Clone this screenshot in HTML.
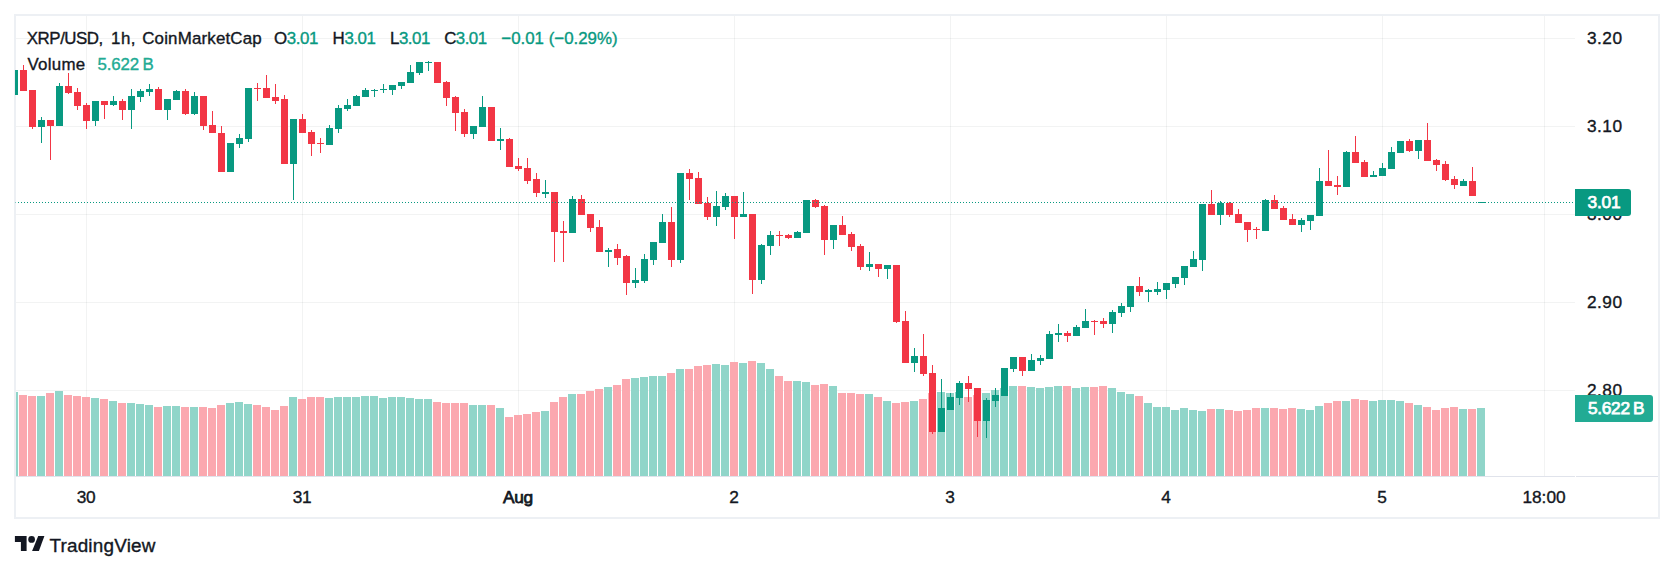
<!DOCTYPE html>
<html><head><meta charset="utf-8"><title>XRP/USD chart</title>
<style>
html,body{margin:0;padding:0;background:#fff;}
body{width:1674px;height:571px;overflow:hidden;}
svg{display:block;}
text{font-family:"Liberation Sans",sans-serif;stroke-width:0.35px;}
.d{stroke:#131722;}.g{stroke:#089981;}.v{stroke:#22ab94;}
</style></head><body>
<svg width="1674" height="571" viewBox="0 0 1674 571">
<rect x="0" y="0" width="1674" height="571" fill="#fff"/>
<rect x="15" y="15" width="1644" height="503" fill="none" stroke="#edf0f4" stroke-width="2"/>
<g shape-rendering="crispEdges">
<rect x="86" y="16" width="1" height="460" fill="rgba(42,46,57,0.06)"/>
<rect x="302" y="16" width="1" height="460" fill="rgba(42,46,57,0.06)"/>
<rect x="518" y="16" width="1" height="460" fill="rgba(42,46,57,0.06)"/>
<rect x="734" y="16" width="1" height="460" fill="rgba(42,46,57,0.06)"/>
<rect x="950" y="16" width="1" height="460" fill="rgba(42,46,57,0.06)"/>
<rect x="1166" y="16" width="1" height="460" fill="rgba(42,46,57,0.06)"/>
<rect x="1382" y="16" width="1" height="460" fill="rgba(42,46,57,0.06)"/>
<rect x="1544" y="16" width="1" height="460" fill="rgba(42,46,57,0.06)"/>
<rect x="16" y="38" width="1559" height="1" fill="rgba(42,46,57,0.06)"/>
<rect x="16" y="126" width="1559" height="1" fill="rgba(42,46,57,0.06)"/>
<rect x="16" y="214" width="1559" height="1" fill="rgba(42,46,57,0.06)"/>
<rect x="16" y="302" width="1559" height="1" fill="rgba(42,46,57,0.06)"/>
<rect x="16" y="390" width="1559" height="1" fill="rgba(42,46,57,0.06)"/>
<rect x="16" y="476" width="1559" height="1" fill="#e0e3eb"/>
<rect x="1576" y="476" width="82" height="1" fill="#e0e3eb"/>
<g id="vol">
<rect x="16" y="392" width="2" height="84" fill="#90d5c9"/>
<rect x="19" y="395" width="8" height="81" fill="#fba8af"/>
<rect x="28" y="396" width="8" height="80" fill="#fba8af"/>
<rect x="37" y="396" width="8" height="80" fill="#90d5c9"/>
<rect x="46" y="393" width="8" height="83" fill="#fba8af"/>
<rect x="55" y="391" width="8" height="85" fill="#90d5c9"/>
<rect x="64" y="395" width="8" height="81" fill="#fba8af"/>
<rect x="73" y="396" width="8" height="80" fill="#fba8af"/>
<rect x="82" y="397" width="8" height="79" fill="#fba8af"/>
<rect x="91" y="398" width="8" height="78" fill="#90d5c9"/>
<rect x="100" y="399" width="8" height="77" fill="#fba8af"/>
<rect x="109" y="401" width="8" height="75" fill="#90d5c9"/>
<rect x="118" y="403" width="8" height="73" fill="#fba8af"/>
<rect x="127" y="403" width="8" height="73" fill="#90d5c9"/>
<rect x="136" y="404" width="8" height="72" fill="#90d5c9"/>
<rect x="145" y="405" width="8" height="71" fill="#90d5c9"/>
<rect x="154" y="407" width="8" height="69" fill="#fba8af"/>
<rect x="163" y="406" width="8" height="70" fill="#90d5c9"/>
<rect x="172" y="406" width="8" height="70" fill="#90d5c9"/>
<rect x="181" y="407" width="8" height="69" fill="#fba8af"/>
<rect x="190" y="407" width="8" height="69" fill="#90d5c9"/>
<rect x="199" y="407" width="8" height="69" fill="#fba8af"/>
<rect x="208" y="408" width="8" height="68" fill="#fba8af"/>
<rect x="217" y="405" width="8" height="71" fill="#fba8af"/>
<rect x="226" y="403" width="8" height="73" fill="#90d5c9"/>
<rect x="235" y="402" width="8" height="74" fill="#90d5c9"/>
<rect x="244" y="404" width="8" height="72" fill="#90d5c9"/>
<rect x="253" y="405" width="8" height="71" fill="#fba8af"/>
<rect x="262" y="407" width="8" height="69" fill="#fba8af"/>
<rect x="271" y="410" width="8" height="66" fill="#fba8af"/>
<rect x="280" y="406" width="8" height="70" fill="#fba8af"/>
<rect x="289" y="397" width="8" height="79" fill="#90d5c9"/>
<rect x="298" y="399" width="8" height="77" fill="#fba8af"/>
<rect x="307" y="397" width="8" height="79" fill="#fba8af"/>
<rect x="316" y="397" width="8" height="79" fill="#fba8af"/>
<rect x="325" y="398" width="8" height="78" fill="#90d5c9"/>
<rect x="334" y="397" width="8" height="79" fill="#90d5c9"/>
<rect x="343" y="397" width="8" height="79" fill="#90d5c9"/>
<rect x="352" y="397" width="8" height="79" fill="#90d5c9"/>
<rect x="361" y="396" width="8" height="80" fill="#90d5c9"/>
<rect x="370" y="396" width="8" height="80" fill="#90d5c9"/>
<rect x="379" y="398" width="8" height="78" fill="#90d5c9"/>
<rect x="388" y="397" width="8" height="79" fill="#90d5c9"/>
<rect x="397" y="397" width="8" height="79" fill="#90d5c9"/>
<rect x="406" y="398" width="8" height="78" fill="#90d5c9"/>
<rect x="415" y="399" width="8" height="77" fill="#90d5c9"/>
<rect x="424" y="399" width="8" height="77" fill="#90d5c9"/>
<rect x="433" y="402" width="8" height="74" fill="#fba8af"/>
<rect x="442" y="403" width="8" height="73" fill="#fba8af"/>
<rect x="451" y="403" width="8" height="73" fill="#fba8af"/>
<rect x="460" y="403" width="8" height="73" fill="#fba8af"/>
<rect x="469" y="405" width="8" height="71" fill="#90d5c9"/>
<rect x="478" y="405" width="8" height="71" fill="#90d5c9"/>
<rect x="487" y="405" width="8" height="71" fill="#fba8af"/>
<rect x="496" y="408" width="8" height="68" fill="#90d5c9"/>
<rect x="505" y="417" width="8" height="59" fill="#fba8af"/>
<rect x="514" y="415" width="8" height="61" fill="#fba8af"/>
<rect x="523" y="414" width="8" height="62" fill="#fba8af"/>
<rect x="532" y="412" width="8" height="64" fill="#fba8af"/>
<rect x="541" y="411" width="8" height="65" fill="#90d5c9"/>
<rect x="550" y="402" width="8" height="74" fill="#fba8af"/>
<rect x="559" y="397" width="8" height="79" fill="#fba8af"/>
<rect x="568" y="394" width="8" height="82" fill="#90d5c9"/>
<rect x="577" y="394" width="8" height="82" fill="#fba8af"/>
<rect x="586" y="391" width="8" height="85" fill="#fba8af"/>
<rect x="595" y="389" width="8" height="87" fill="#fba8af"/>
<rect x="604" y="387" width="8" height="89" fill="#90d5c9"/>
<rect x="613" y="385" width="8" height="91" fill="#fba8af"/>
<rect x="622" y="379" width="8" height="97" fill="#fba8af"/>
<rect x="631" y="378" width="8" height="98" fill="#90d5c9"/>
<rect x="640" y="377" width="8" height="99" fill="#90d5c9"/>
<rect x="649" y="376" width="8" height="100" fill="#90d5c9"/>
<rect x="658" y="376" width="8" height="100" fill="#90d5c9"/>
<rect x="667" y="373" width="8" height="103" fill="#fba8af"/>
<rect x="676" y="369" width="8" height="107" fill="#90d5c9"/>
<rect x="685" y="369" width="8" height="107" fill="#fba8af"/>
<rect x="694" y="366" width="8" height="110" fill="#fba8af"/>
<rect x="703" y="365" width="8" height="111" fill="#fba8af"/>
<rect x="712" y="364" width="8" height="112" fill="#90d5c9"/>
<rect x="721" y="365" width="8" height="111" fill="#90d5c9"/>
<rect x="730" y="362" width="8" height="114" fill="#fba8af"/>
<rect x="739" y="363" width="8" height="113" fill="#90d5c9"/>
<rect x="748" y="361" width="8" height="115" fill="#fba8af"/>
<rect x="757" y="363" width="8" height="113" fill="#90d5c9"/>
<rect x="766" y="369" width="8" height="107" fill="#90d5c9"/>
<rect x="775" y="376" width="8" height="100" fill="#fba8af"/>
<rect x="784" y="381" width="8" height="95" fill="#fba8af"/>
<rect x="793" y="381" width="8" height="95" fill="#90d5c9"/>
<rect x="802" y="382" width="8" height="94" fill="#90d5c9"/>
<rect x="811" y="385" width="8" height="91" fill="#fba8af"/>
<rect x="820" y="384" width="8" height="92" fill="#fba8af"/>
<rect x="829" y="386" width="8" height="90" fill="#90d5c9"/>
<rect x="838" y="393" width="8" height="83" fill="#fba8af"/>
<rect x="847" y="393" width="8" height="83" fill="#fba8af"/>
<rect x="856" y="394" width="8" height="82" fill="#fba8af"/>
<rect x="865" y="394" width="8" height="82" fill="#90d5c9"/>
<rect x="874" y="397" width="8" height="79" fill="#fba8af"/>
<rect x="883" y="401" width="8" height="75" fill="#90d5c9"/>
<rect x="892" y="403" width="8" height="73" fill="#fba8af"/>
<rect x="901" y="402" width="8" height="74" fill="#fba8af"/>
<rect x="910" y="401" width="8" height="75" fill="#90d5c9"/>
<rect x="919" y="399" width="8" height="77" fill="#fba8af"/>
<rect x="928" y="393" width="8" height="83" fill="#fba8af"/>
<rect x="937" y="392" width="8" height="84" fill="#90d5c9"/>
<rect x="946" y="393" width="8" height="83" fill="#90d5c9"/>
<rect x="955" y="392" width="8" height="84" fill="#90d5c9"/>
<rect x="964" y="397" width="8" height="79" fill="#fba8af"/>
<rect x="973" y="395" width="8" height="81" fill="#fba8af"/>
<rect x="982" y="393" width="8" height="83" fill="#90d5c9"/>
<rect x="991" y="390" width="8" height="86" fill="#90d5c9"/>
<rect x="1000" y="388" width="8" height="88" fill="#90d5c9"/>
<rect x="1009" y="386" width="8" height="90" fill="#90d5c9"/>
<rect x="1018" y="386" width="8" height="90" fill="#fba8af"/>
<rect x="1027" y="387" width="8" height="89" fill="#90d5c9"/>
<rect x="1036" y="388" width="8" height="88" fill="#90d5c9"/>
<rect x="1045" y="387" width="8" height="89" fill="#90d5c9"/>
<rect x="1054" y="386" width="8" height="90" fill="#90d5c9"/>
<rect x="1063" y="386" width="8" height="90" fill="#fba8af"/>
<rect x="1072" y="388" width="8" height="88" fill="#90d5c9"/>
<rect x="1081" y="387" width="8" height="89" fill="#90d5c9"/>
<rect x="1090" y="387" width="8" height="89" fill="#fba8af"/>
<rect x="1099" y="386" width="8" height="90" fill="#fba8af"/>
<rect x="1108" y="388" width="8" height="88" fill="#90d5c9"/>
<rect x="1117" y="392" width="8" height="84" fill="#90d5c9"/>
<rect x="1126" y="394" width="8" height="82" fill="#90d5c9"/>
<rect x="1135" y="396" width="8" height="80" fill="#fba8af"/>
<rect x="1144" y="403" width="8" height="73" fill="#90d5c9"/>
<rect x="1153" y="407" width="8" height="69" fill="#90d5c9"/>
<rect x="1162" y="407" width="8" height="69" fill="#90d5c9"/>
<rect x="1171" y="410" width="8" height="66" fill="#90d5c9"/>
<rect x="1180" y="408" width="8" height="68" fill="#90d5c9"/>
<rect x="1189" y="410" width="8" height="66" fill="#90d5c9"/>
<rect x="1198" y="411" width="8" height="65" fill="#90d5c9"/>
<rect x="1207" y="409" width="8" height="67" fill="#fba8af"/>
<rect x="1216" y="409" width="8" height="67" fill="#90d5c9"/>
<rect x="1225" y="410" width="8" height="66" fill="#fba8af"/>
<rect x="1234" y="411" width="8" height="65" fill="#fba8af"/>
<rect x="1243" y="410" width="8" height="66" fill="#fba8af"/>
<rect x="1252" y="408" width="8" height="68" fill="#fba8af"/>
<rect x="1261" y="408" width="8" height="68" fill="#90d5c9"/>
<rect x="1270" y="408" width="8" height="68" fill="#fba8af"/>
<rect x="1279" y="409" width="8" height="67" fill="#fba8af"/>
<rect x="1288" y="408" width="8" height="68" fill="#fba8af"/>
<rect x="1297" y="409" width="8" height="67" fill="#90d5c9"/>
<rect x="1306" y="410" width="8" height="66" fill="#90d5c9"/>
<rect x="1315" y="406" width="8" height="70" fill="#90d5c9"/>
<rect x="1324" y="403" width="8" height="73" fill="#fba8af"/>
<rect x="1333" y="401" width="8" height="75" fill="#fba8af"/>
<rect x="1342" y="401" width="8" height="75" fill="#90d5c9"/>
<rect x="1351" y="399" width="8" height="77" fill="#fba8af"/>
<rect x="1360" y="400" width="8" height="76" fill="#fba8af"/>
<rect x="1369" y="401" width="8" height="75" fill="#90d5c9"/>
<rect x="1378" y="400" width="8" height="76" fill="#90d5c9"/>
<rect x="1387" y="400" width="8" height="76" fill="#90d5c9"/>
<rect x="1396" y="401" width="8" height="75" fill="#90d5c9"/>
<rect x="1405" y="403" width="8" height="73" fill="#fba8af"/>
<rect x="1414" y="405" width="8" height="71" fill="#90d5c9"/>
<rect x="1423" y="407" width="8" height="69" fill="#fba8af"/>
<rect x="1432" y="410" width="8" height="66" fill="#fba8af"/>
<rect x="1441" y="408" width="8" height="68" fill="#fba8af"/>
<rect x="1450" y="407" width="8" height="69" fill="#fba8af"/>
<rect x="1459" y="409" width="8" height="67" fill="#90d5c9"/>
<rect x="1468" y="409" width="8" height="67" fill="#fba8af"/>
<rect x="1477" y="408" width="8" height="68" fill="#90d5c9"/>
</g>
<g id="candles">
<rect x="15" y="70" width="3" height="25" fill="#089981"/>
<rect x="23" y="65" width="1" height="26" fill="#f23645"/>
<rect x="20" y="70" width="7" height="21" fill="#f23645"/>
<rect x="32" y="90" width="1" height="39" fill="#f23645"/>
<rect x="29" y="90" width="7" height="37" fill="#f23645"/>
<rect x="41" y="117" width="1" height="26" fill="#089981"/>
<rect x="38" y="120" width="7" height="7" fill="#089981"/>
<rect x="50" y="120" width="1" height="40" fill="#f23645"/>
<rect x="47" y="120" width="7" height="6" fill="#f23645"/>
<rect x="59" y="83" width="1" height="43" fill="#089981"/>
<rect x="56" y="86" width="7" height="40" fill="#089981"/>
<rect x="68" y="73" width="1" height="21" fill="#f23645"/>
<rect x="65" y="86" width="7" height="7" fill="#f23645"/>
<rect x="77" y="88" width="1" height="22" fill="#f23645"/>
<rect x="74" y="92" width="7" height="14" fill="#f23645"/>
<rect x="86" y="103" width="1" height="26" fill="#f23645"/>
<rect x="83" y="105" width="7" height="16" fill="#f23645"/>
<rect x="95" y="101" width="1" height="25" fill="#089981"/>
<rect x="92" y="101" width="7" height="20" fill="#089981"/>
<rect x="104" y="101" width="1" height="18" fill="#f23645"/>
<rect x="101" y="101" width="7" height="4" fill="#f23645"/>
<rect x="113" y="96" width="1" height="10" fill="#089981"/>
<rect x="110" y="101" width="7" height="4" fill="#089981"/>
<rect x="122" y="99" width="1" height="21" fill="#f23645"/>
<rect x="119" y="101" width="7" height="9" fill="#f23645"/>
<rect x="131" y="89" width="1" height="40" fill="#089981"/>
<rect x="128" y="96" width="7" height="14" fill="#089981"/>
<rect x="140" y="89" width="1" height="13" fill="#089981"/>
<rect x="137" y="91" width="7" height="6" fill="#089981"/>
<rect x="149" y="84" width="1" height="12" fill="#089981"/>
<rect x="146" y="89" width="7" height="3" fill="#089981"/>
<rect x="158" y="87" width="1" height="23" fill="#f23645"/>
<rect x="155" y="89" width="7" height="21" fill="#f23645"/>
<rect x="167" y="99" width="1" height="21" fill="#089981"/>
<rect x="164" y="99" width="7" height="11" fill="#089981"/>
<rect x="176" y="90" width="1" height="10" fill="#089981"/>
<rect x="173" y="91" width="7" height="9" fill="#089981"/>
<rect x="185" y="89" width="1" height="26" fill="#f23645"/>
<rect x="182" y="91" width="7" height="23" fill="#f23645"/>
<rect x="194" y="92" width="1" height="23" fill="#089981"/>
<rect x="191" y="96" width="7" height="18" fill="#089981"/>
<rect x="203" y="96" width="1" height="34" fill="#f23645"/>
<rect x="200" y="96" width="7" height="30" fill="#f23645"/>
<rect x="212" y="111" width="1" height="22" fill="#f23645"/>
<rect x="209" y="125" width="7" height="8" fill="#f23645"/>
<rect x="221" y="126" width="1" height="46" fill="#f23645"/>
<rect x="218" y="133" width="7" height="39" fill="#f23645"/>
<rect x="227" y="143" width="7" height="29" fill="#089981"/>
<rect x="239" y="134" width="1" height="14" fill="#089981"/>
<rect x="236" y="138" width="7" height="6" fill="#089981"/>
<rect x="248" y="88" width="1" height="54" fill="#089981"/>
<rect x="245" y="88" width="7" height="51" fill="#089981"/>
<rect x="257" y="83" width="1" height="18" fill="#f23645"/>
<rect x="254" y="88" width="7" height="1" fill="#f23645"/>
<rect x="266" y="75" width="1" height="23" fill="#f23645"/>
<rect x="263" y="88" width="7" height="10" fill="#f23645"/>
<rect x="275" y="84" width="1" height="20" fill="#f23645"/>
<rect x="272" y="97" width="7" height="4" fill="#f23645"/>
<rect x="284" y="95" width="1" height="69" fill="#f23645"/>
<rect x="281" y="99" width="7" height="65" fill="#f23645"/>
<rect x="293" y="119" width="1" height="81" fill="#089981"/>
<rect x="290" y="119" width="7" height="45" fill="#089981"/>
<rect x="302" y="114" width="1" height="19" fill="#f23645"/>
<rect x="299" y="119" width="7" height="14" fill="#f23645"/>
<rect x="311" y="130" width="1" height="26" fill="#f23645"/>
<rect x="308" y="132" width="7" height="12" fill="#f23645"/>
<rect x="320" y="138" width="1" height="15" fill="#f23645"/>
<rect x="317" y="143" width="7" height="1" fill="#f23645"/>
<rect x="329" y="125" width="1" height="20" fill="#089981"/>
<rect x="326" y="128" width="7" height="17" fill="#089981"/>
<rect x="338" y="105" width="1" height="28" fill="#089981"/>
<rect x="335" y="108" width="7" height="21" fill="#089981"/>
<rect x="347" y="99" width="1" height="12" fill="#089981"/>
<rect x="344" y="105" width="7" height="4" fill="#089981"/>
<rect x="356" y="95" width="1" height="11" fill="#089981"/>
<rect x="353" y="96" width="7" height="10" fill="#089981"/>
<rect x="365" y="88" width="1" height="9" fill="#089981"/>
<rect x="362" y="90" width="7" height="7" fill="#089981"/>
<rect x="374" y="89" width="1" height="8" fill="#089981"/>
<rect x="371" y="90" width="7" height="1" fill="#089981"/>
<rect x="383" y="84" width="1" height="9" fill="#089981"/>
<rect x="380" y="89" width="7" height="1" fill="#089981"/>
<rect x="392" y="85" width="1" height="10" fill="#089981"/>
<rect x="389" y="85" width="7" height="5" fill="#089981"/>
<rect x="401" y="82" width="1" height="7" fill="#089981"/>
<rect x="398" y="82" width="7" height="4" fill="#089981"/>
<rect x="410" y="65" width="1" height="18" fill="#089981"/>
<rect x="407" y="72" width="7" height="11" fill="#089981"/>
<rect x="419" y="62" width="1" height="13" fill="#089981"/>
<rect x="416" y="62" width="7" height="11" fill="#089981"/>
<rect x="428" y="61" width="1" height="10" fill="#089981"/>
<rect x="425" y="62" width="7" height="1" fill="#089981"/>
<rect x="434" y="62" width="7" height="21" fill="#f23645"/>
<rect x="446" y="81" width="1" height="25" fill="#f23645"/>
<rect x="443" y="82" width="7" height="16" fill="#f23645"/>
<rect x="455" y="96" width="1" height="35" fill="#f23645"/>
<rect x="452" y="97" width="7" height="16" fill="#f23645"/>
<rect x="464" y="109" width="1" height="28" fill="#f23645"/>
<rect x="461" y="112" width="7" height="22" fill="#f23645"/>
<rect x="473" y="126" width="1" height="13" fill="#089981"/>
<rect x="470" y="126" width="7" height="8" fill="#089981"/>
<rect x="482" y="96" width="1" height="31" fill="#089981"/>
<rect x="479" y="107" width="7" height="20" fill="#089981"/>
<rect x="488" y="107" width="7" height="34" fill="#f23645"/>
<rect x="500" y="128" width="1" height="22" fill="#089981"/>
<rect x="497" y="139" width="7" height="2" fill="#089981"/>
<rect x="509" y="138" width="1" height="29" fill="#f23645"/>
<rect x="506" y="139" width="7" height="28" fill="#f23645"/>
<rect x="518" y="158" width="1" height="13" fill="#f23645"/>
<rect x="515" y="166" width="7" height="3" fill="#f23645"/>
<rect x="527" y="158" width="1" height="26" fill="#f23645"/>
<rect x="524" y="168" width="7" height="13" fill="#f23645"/>
<rect x="536" y="173" width="1" height="24" fill="#f23645"/>
<rect x="533" y="179" width="7" height="14" fill="#f23645"/>
<rect x="545" y="180" width="1" height="18" fill="#089981"/>
<rect x="542" y="192" width="7" height="2" fill="#089981"/>
<rect x="554" y="192" width="1" height="70" fill="#f23645"/>
<rect x="551" y="192" width="7" height="40" fill="#f23645"/>
<rect x="563" y="221" width="1" height="41" fill="#f23645"/>
<rect x="560" y="231" width="7" height="2" fill="#f23645"/>
<rect x="572" y="196" width="1" height="37" fill="#089981"/>
<rect x="569" y="199" width="7" height="34" fill="#089981"/>
<rect x="581" y="195" width="1" height="20" fill="#f23645"/>
<rect x="578" y="199" width="7" height="16" fill="#f23645"/>
<rect x="590" y="214" width="1" height="18" fill="#f23645"/>
<rect x="587" y="214" width="7" height="14" fill="#f23645"/>
<rect x="599" y="220" width="1" height="32" fill="#f23645"/>
<rect x="596" y="227" width="7" height="25" fill="#f23645"/>
<rect x="608" y="248" width="1" height="19" fill="#089981"/>
<rect x="605" y="250" width="7" height="2" fill="#089981"/>
<rect x="617" y="244" width="1" height="21" fill="#f23645"/>
<rect x="614" y="249" width="7" height="9" fill="#f23645"/>
<rect x="626" y="255" width="1" height="40" fill="#f23645"/>
<rect x="623" y="256" width="7" height="27" fill="#f23645"/>
<rect x="635" y="268" width="1" height="20" fill="#089981"/>
<rect x="632" y="280" width="7" height="3" fill="#089981"/>
<rect x="644" y="254" width="1" height="29" fill="#089981"/>
<rect x="641" y="259" width="7" height="22" fill="#089981"/>
<rect x="653" y="242" width="1" height="23" fill="#089981"/>
<rect x="650" y="242" width="7" height="18" fill="#089981"/>
<rect x="662" y="214" width="1" height="29" fill="#089981"/>
<rect x="659" y="222" width="7" height="21" fill="#089981"/>
<rect x="671" y="207" width="1" height="60" fill="#f23645"/>
<rect x="668" y="222" width="7" height="38" fill="#f23645"/>
<rect x="680" y="173" width="1" height="90" fill="#089981"/>
<rect x="677" y="173" width="7" height="87" fill="#089981"/>
<rect x="689" y="169" width="1" height="31" fill="#f23645"/>
<rect x="686" y="173" width="7" height="6" fill="#f23645"/>
<rect x="698" y="172" width="1" height="32" fill="#f23645"/>
<rect x="695" y="178" width="7" height="26" fill="#f23645"/>
<rect x="707" y="197" width="1" height="23" fill="#f23645"/>
<rect x="704" y="203" width="7" height="14" fill="#f23645"/>
<rect x="716" y="191" width="1" height="35" fill="#089981"/>
<rect x="713" y="206" width="7" height="11" fill="#089981"/>
<rect x="725" y="193" width="1" height="17" fill="#089981"/>
<rect x="722" y="196" width="7" height="11" fill="#089981"/>
<rect x="734" y="196" width="1" height="43" fill="#f23645"/>
<rect x="731" y="196" width="7" height="21" fill="#f23645"/>
<rect x="743" y="192" width="1" height="25" fill="#089981"/>
<rect x="740" y="214" width="7" height="3" fill="#089981"/>
<rect x="752" y="214" width="1" height="80" fill="#f23645"/>
<rect x="749" y="214" width="7" height="66" fill="#f23645"/>
<rect x="761" y="244" width="1" height="40" fill="#089981"/>
<rect x="758" y="245" width="7" height="35" fill="#089981"/>
<rect x="770" y="231" width="1" height="24" fill="#089981"/>
<rect x="767" y="235" width="7" height="11" fill="#089981"/>
<rect x="779" y="231" width="1" height="15" fill="#f23645"/>
<rect x="776" y="235" width="7" height="1" fill="#f23645"/>
<rect x="788" y="234" width="1" height="5" fill="#f23645"/>
<rect x="785" y="235" width="7" height="3" fill="#f23645"/>
<rect x="797" y="231" width="1" height="7" fill="#089981"/>
<rect x="794" y="232" width="7" height="6" fill="#089981"/>
<rect x="803" y="200" width="7" height="33" fill="#089981"/>
<rect x="815" y="199" width="1" height="9" fill="#f23645"/>
<rect x="812" y="200" width="7" height="7" fill="#f23645"/>
<rect x="824" y="205" width="1" height="50" fill="#f23645"/>
<rect x="821" y="206" width="7" height="34" fill="#f23645"/>
<rect x="833" y="225" width="1" height="24" fill="#089981"/>
<rect x="830" y="225" width="7" height="15" fill="#089981"/>
<rect x="842" y="216" width="1" height="19" fill="#f23645"/>
<rect x="839" y="225" width="7" height="10" fill="#f23645"/>
<rect x="851" y="232" width="1" height="19" fill="#f23645"/>
<rect x="848" y="234" width="7" height="13" fill="#f23645"/>
<rect x="860" y="244" width="1" height="26" fill="#f23645"/>
<rect x="857" y="246" width="7" height="21" fill="#f23645"/>
<rect x="869" y="252" width="1" height="19" fill="#089981"/>
<rect x="866" y="264" width="7" height="3" fill="#089981"/>
<rect x="878" y="264" width="1" height="13" fill="#f23645"/>
<rect x="875" y="264" width="7" height="5" fill="#f23645"/>
<rect x="887" y="265" width="1" height="14" fill="#089981"/>
<rect x="884" y="265" width="7" height="4" fill="#089981"/>
<rect x="896" y="265" width="1" height="58" fill="#f23645"/>
<rect x="893" y="265" width="7" height="57" fill="#f23645"/>
<rect x="905" y="311" width="1" height="52" fill="#f23645"/>
<rect x="902" y="321" width="7" height="42" fill="#f23645"/>
<rect x="914" y="348" width="1" height="24" fill="#089981"/>
<rect x="911" y="356" width="7" height="7" fill="#089981"/>
<rect x="923" y="334" width="1" height="42" fill="#f23645"/>
<rect x="920" y="356" width="7" height="18" fill="#f23645"/>
<rect x="932" y="365" width="1" height="69" fill="#f23645"/>
<rect x="929" y="373" width="7" height="59" fill="#f23645"/>
<rect x="941" y="379" width="1" height="53" fill="#089981"/>
<rect x="938" y="408" width="7" height="24" fill="#089981"/>
<rect x="950" y="393" width="1" height="17" fill="#089981"/>
<rect x="947" y="397" width="7" height="13" fill="#089981"/>
<rect x="959" y="381" width="1" height="24" fill="#089981"/>
<rect x="956" y="383" width="7" height="15" fill="#089981"/>
<rect x="968" y="376" width="1" height="26" fill="#f23645"/>
<rect x="965" y="383" width="7" height="6" fill="#f23645"/>
<rect x="977" y="388" width="1" height="49" fill="#f23645"/>
<rect x="974" y="388" width="7" height="33" fill="#f23645"/>
<rect x="986" y="398" width="1" height="40" fill="#089981"/>
<rect x="983" y="400" width="7" height="21" fill="#089981"/>
<rect x="995" y="388" width="1" height="19" fill="#089981"/>
<rect x="992" y="395" width="7" height="6" fill="#089981"/>
<rect x="1001" y="368" width="7" height="28" fill="#089981"/>
<rect x="1013" y="357" width="1" height="15" fill="#089981"/>
<rect x="1010" y="357" width="7" height="12" fill="#089981"/>
<rect x="1022" y="357" width="1" height="19" fill="#f23645"/>
<rect x="1019" y="357" width="7" height="14" fill="#f23645"/>
<rect x="1031" y="354" width="1" height="17" fill="#089981"/>
<rect x="1028" y="360" width="7" height="11" fill="#089981"/>
<rect x="1040" y="355" width="1" height="10" fill="#089981"/>
<rect x="1037" y="358" width="7" height="3" fill="#089981"/>
<rect x="1049" y="331" width="1" height="28" fill="#089981"/>
<rect x="1046" y="334" width="7" height="25" fill="#089981"/>
<rect x="1058" y="324" width="1" height="18" fill="#089981"/>
<rect x="1055" y="333" width="7" height="2" fill="#089981"/>
<rect x="1067" y="331" width="1" height="11" fill="#f23645"/>
<rect x="1064" y="333" width="7" height="3" fill="#f23645"/>
<rect x="1076" y="325" width="1" height="11" fill="#089981"/>
<rect x="1073" y="327" width="7" height="9" fill="#089981"/>
<rect x="1085" y="309" width="1" height="19" fill="#089981"/>
<rect x="1082" y="321" width="7" height="7" fill="#089981"/>
<rect x="1094" y="320" width="1" height="15" fill="#f23645"/>
<rect x="1091" y="321" width="7" height="1" fill="#f23645"/>
<rect x="1103" y="318" width="1" height="10" fill="#f23645"/>
<rect x="1100" y="321" width="7" height="3" fill="#f23645"/>
<rect x="1112" y="310" width="1" height="23" fill="#089981"/>
<rect x="1109" y="312" width="7" height="12" fill="#089981"/>
<rect x="1121" y="303" width="1" height="14" fill="#089981"/>
<rect x="1118" y="306" width="7" height="7" fill="#089981"/>
<rect x="1130" y="286" width="1" height="26" fill="#089981"/>
<rect x="1127" y="286" width="7" height="21" fill="#089981"/>
<rect x="1139" y="277" width="1" height="19" fill="#f23645"/>
<rect x="1136" y="286" width="7" height="6" fill="#f23645"/>
<rect x="1148" y="289" width="1" height="13" fill="#089981"/>
<rect x="1145" y="290" width="7" height="2" fill="#089981"/>
<rect x="1157" y="282" width="1" height="13" fill="#089981"/>
<rect x="1154" y="289" width="7" height="3" fill="#089981"/>
<rect x="1166" y="283" width="1" height="16" fill="#089981"/>
<rect x="1163" y="283" width="7" height="7" fill="#089981"/>
<rect x="1175" y="277" width="1" height="11" fill="#089981"/>
<rect x="1172" y="277" width="7" height="7" fill="#089981"/>
<rect x="1184" y="266" width="1" height="19" fill="#089981"/>
<rect x="1181" y="266" width="7" height="12" fill="#089981"/>
<rect x="1193" y="251" width="1" height="16" fill="#089981"/>
<rect x="1190" y="259" width="7" height="8" fill="#089981"/>
<rect x="1202" y="204" width="1" height="67" fill="#089981"/>
<rect x="1199" y="204" width="7" height="56" fill="#089981"/>
<rect x="1211" y="190" width="1" height="25" fill="#f23645"/>
<rect x="1208" y="204" width="7" height="11" fill="#f23645"/>
<rect x="1220" y="201" width="1" height="24" fill="#089981"/>
<rect x="1217" y="203" width="7" height="12" fill="#089981"/>
<rect x="1229" y="202" width="1" height="15" fill="#f23645"/>
<rect x="1226" y="203" width="7" height="12" fill="#f23645"/>
<rect x="1238" y="209" width="1" height="14" fill="#f23645"/>
<rect x="1235" y="214" width="7" height="9" fill="#f23645"/>
<rect x="1247" y="222" width="1" height="20" fill="#f23645"/>
<rect x="1244" y="222" width="7" height="8" fill="#f23645"/>
<rect x="1256" y="227" width="1" height="12" fill="#f23645"/>
<rect x="1253" y="229" width="7" height="1" fill="#f23645"/>
<rect x="1265" y="199" width="1" height="32" fill="#089981"/>
<rect x="1262" y="200" width="7" height="31" fill="#089981"/>
<rect x="1274" y="195" width="1" height="14" fill="#f23645"/>
<rect x="1271" y="200" width="7" height="9" fill="#f23645"/>
<rect x="1283" y="206" width="1" height="14" fill="#f23645"/>
<rect x="1280" y="208" width="7" height="12" fill="#f23645"/>
<rect x="1292" y="214" width="1" height="11" fill="#f23645"/>
<rect x="1289" y="219" width="7" height="6" fill="#f23645"/>
<rect x="1301" y="218" width="1" height="14" fill="#089981"/>
<rect x="1298" y="220" width="7" height="5" fill="#089981"/>
<rect x="1310" y="215" width="1" height="15" fill="#089981"/>
<rect x="1307" y="215" width="7" height="6" fill="#089981"/>
<rect x="1319" y="168" width="1" height="48" fill="#089981"/>
<rect x="1316" y="181" width="7" height="35" fill="#089981"/>
<rect x="1328" y="150" width="1" height="36" fill="#f23645"/>
<rect x="1325" y="181" width="7" height="5" fill="#f23645"/>
<rect x="1337" y="176" width="1" height="19" fill="#f23645"/>
<rect x="1334" y="185" width="7" height="2" fill="#f23645"/>
<rect x="1346" y="151" width="1" height="36" fill="#089981"/>
<rect x="1343" y="152" width="7" height="35" fill="#089981"/>
<rect x="1355" y="136" width="1" height="27" fill="#f23645"/>
<rect x="1352" y="152" width="7" height="11" fill="#f23645"/>
<rect x="1364" y="160" width="1" height="17" fill="#f23645"/>
<rect x="1361" y="162" width="7" height="15" fill="#f23645"/>
<rect x="1373" y="171" width="1" height="6" fill="#089981"/>
<rect x="1370" y="175" width="7" height="2" fill="#089981"/>
<rect x="1382" y="163" width="1" height="13" fill="#089981"/>
<rect x="1379" y="168" width="7" height="8" fill="#089981"/>
<rect x="1391" y="147" width="1" height="22" fill="#089981"/>
<rect x="1388" y="152" width="7" height="17" fill="#089981"/>
<rect x="1397" y="141" width="7" height="12" fill="#089981"/>
<rect x="1409" y="139" width="1" height="13" fill="#f23645"/>
<rect x="1406" y="141" width="7" height="10" fill="#f23645"/>
<rect x="1418" y="140" width="1" height="19" fill="#089981"/>
<rect x="1415" y="140" width="7" height="11" fill="#089981"/>
<rect x="1427" y="123" width="1" height="38" fill="#f23645"/>
<rect x="1424" y="140" width="7" height="21" fill="#f23645"/>
<rect x="1436" y="159" width="1" height="12" fill="#f23645"/>
<rect x="1433" y="160" width="7" height="5" fill="#f23645"/>
<rect x="1445" y="161" width="1" height="20" fill="#f23645"/>
<rect x="1442" y="164" width="7" height="16" fill="#f23645"/>
<rect x="1454" y="176" width="1" height="13" fill="#f23645"/>
<rect x="1451" y="179" width="7" height="6" fill="#f23645"/>
<rect x="1463" y="179" width="1" height="7" fill="#089981"/>
<rect x="1460" y="181" width="7" height="5" fill="#089981"/>
<rect x="1472" y="167" width="1" height="29" fill="#f23645"/>
<rect x="1469" y="181" width="7" height="15" fill="#f23645"/>
<rect x="1478" y="202" width="8" height="1" fill="#089981"/>
</g>
<g id="priceline">
<rect x="15" y="202" width="1" height="1" fill="#089981" fill-opacity="0.45"/>
<path d="M18 202h1v1h-1zM21 202h1v1h-1zM24 202h1v1h-1zM27 202h1v1h-1zM30 202h1v1h-1zM33 202h1v1h-1zM36 202h1v1h-1zM39 202h1v1h-1zM42 202h1v1h-1zM45 202h1v1h-1zM48 202h1v1h-1zM51 202h1v1h-1zM54 202h1v1h-1zM57 202h1v1h-1zM60 202h1v1h-1zM63 202h1v1h-1zM66 202h1v1h-1zM69 202h1v1h-1zM72 202h1v1h-1zM75 202h1v1h-1zM78 202h1v1h-1zM81 202h1v1h-1zM84 202h1v1h-1zM87 202h1v1h-1zM90 202h1v1h-1zM93 202h1v1h-1zM96 202h1v1h-1zM99 202h1v1h-1zM102 202h1v1h-1zM105 202h1v1h-1zM108 202h1v1h-1zM111 202h1v1h-1zM114 202h1v1h-1zM117 202h1v1h-1zM120 202h1v1h-1zM123 202h1v1h-1zM126 202h1v1h-1zM129 202h1v1h-1zM132 202h1v1h-1zM135 202h1v1h-1zM138 202h1v1h-1zM141 202h1v1h-1zM144 202h1v1h-1zM147 202h1v1h-1zM150 202h1v1h-1zM153 202h1v1h-1zM156 202h1v1h-1zM159 202h1v1h-1zM162 202h1v1h-1zM165 202h1v1h-1zM168 202h1v1h-1zM171 202h1v1h-1zM174 202h1v1h-1zM177 202h1v1h-1zM180 202h1v1h-1zM183 202h1v1h-1zM186 202h1v1h-1zM189 202h1v1h-1zM192 202h1v1h-1zM195 202h1v1h-1zM198 202h1v1h-1zM201 202h1v1h-1zM204 202h1v1h-1zM207 202h1v1h-1zM210 202h1v1h-1zM213 202h1v1h-1zM216 202h1v1h-1zM219 202h1v1h-1zM222 202h1v1h-1zM225 202h1v1h-1zM228 202h1v1h-1zM231 202h1v1h-1zM234 202h1v1h-1zM237 202h1v1h-1zM240 202h1v1h-1zM243 202h1v1h-1zM246 202h1v1h-1zM249 202h1v1h-1zM252 202h1v1h-1zM255 202h1v1h-1zM258 202h1v1h-1zM261 202h1v1h-1zM264 202h1v1h-1zM267 202h1v1h-1zM270 202h1v1h-1zM273 202h1v1h-1zM276 202h1v1h-1zM279 202h1v1h-1zM282 202h1v1h-1zM285 202h1v1h-1zM288 202h1v1h-1zM291 202h1v1h-1zM294 202h1v1h-1zM297 202h1v1h-1zM300 202h1v1h-1zM303 202h1v1h-1zM306 202h1v1h-1zM309 202h1v1h-1zM312 202h1v1h-1zM315 202h1v1h-1zM318 202h1v1h-1zM321 202h1v1h-1zM324 202h1v1h-1zM327 202h1v1h-1zM330 202h1v1h-1zM333 202h1v1h-1zM336 202h1v1h-1zM339 202h1v1h-1zM342 202h1v1h-1zM345 202h1v1h-1zM348 202h1v1h-1zM351 202h1v1h-1zM354 202h1v1h-1zM357 202h1v1h-1zM360 202h1v1h-1zM363 202h1v1h-1zM366 202h1v1h-1zM369 202h1v1h-1zM372 202h1v1h-1zM375 202h1v1h-1zM378 202h1v1h-1zM381 202h1v1h-1zM384 202h1v1h-1zM387 202h1v1h-1zM390 202h1v1h-1zM393 202h1v1h-1zM396 202h1v1h-1zM399 202h1v1h-1zM402 202h1v1h-1zM405 202h1v1h-1zM408 202h1v1h-1zM411 202h1v1h-1zM414 202h1v1h-1zM417 202h1v1h-1zM420 202h1v1h-1zM423 202h1v1h-1zM426 202h1v1h-1zM429 202h1v1h-1zM432 202h1v1h-1zM435 202h1v1h-1zM438 202h1v1h-1zM441 202h1v1h-1zM444 202h1v1h-1zM447 202h1v1h-1zM450 202h1v1h-1zM453 202h1v1h-1zM456 202h1v1h-1zM459 202h1v1h-1zM462 202h1v1h-1zM465 202h1v1h-1zM468 202h1v1h-1zM471 202h1v1h-1zM474 202h1v1h-1zM477 202h1v1h-1zM480 202h1v1h-1zM483 202h1v1h-1zM486 202h1v1h-1zM489 202h1v1h-1zM492 202h1v1h-1zM495 202h1v1h-1zM498 202h1v1h-1zM501 202h1v1h-1zM504 202h1v1h-1zM507 202h1v1h-1zM510 202h1v1h-1zM513 202h1v1h-1zM516 202h1v1h-1zM519 202h1v1h-1zM522 202h1v1h-1zM525 202h1v1h-1zM528 202h1v1h-1zM531 202h1v1h-1zM534 202h1v1h-1zM537 202h1v1h-1zM540 202h1v1h-1zM543 202h1v1h-1zM546 202h1v1h-1zM549 202h1v1h-1zM552 202h1v1h-1zM555 202h1v1h-1zM558 202h1v1h-1zM561 202h1v1h-1zM564 202h1v1h-1zM567 202h1v1h-1zM570 202h1v1h-1zM573 202h1v1h-1zM576 202h1v1h-1zM579 202h1v1h-1zM582 202h1v1h-1zM585 202h1v1h-1zM588 202h1v1h-1zM591 202h1v1h-1zM594 202h1v1h-1zM597 202h1v1h-1zM600 202h1v1h-1zM603 202h1v1h-1zM606 202h1v1h-1zM609 202h1v1h-1zM612 202h1v1h-1zM615 202h1v1h-1zM618 202h1v1h-1zM621 202h1v1h-1zM624 202h1v1h-1zM627 202h1v1h-1zM630 202h1v1h-1zM633 202h1v1h-1zM636 202h1v1h-1zM639 202h1v1h-1zM642 202h1v1h-1zM645 202h1v1h-1zM648 202h1v1h-1zM651 202h1v1h-1zM654 202h1v1h-1zM657 202h1v1h-1zM660 202h1v1h-1zM663 202h1v1h-1zM666 202h1v1h-1zM669 202h1v1h-1zM672 202h1v1h-1zM675 202h1v1h-1zM678 202h1v1h-1zM681 202h1v1h-1zM684 202h1v1h-1zM687 202h1v1h-1zM690 202h1v1h-1zM693 202h1v1h-1zM696 202h1v1h-1zM699 202h1v1h-1zM702 202h1v1h-1zM705 202h1v1h-1zM708 202h1v1h-1zM711 202h1v1h-1zM714 202h1v1h-1zM717 202h1v1h-1zM720 202h1v1h-1zM723 202h1v1h-1zM726 202h1v1h-1zM729 202h1v1h-1zM732 202h1v1h-1zM735 202h1v1h-1zM738 202h1v1h-1zM741 202h1v1h-1zM744 202h1v1h-1zM747 202h1v1h-1zM750 202h1v1h-1zM753 202h1v1h-1zM756 202h1v1h-1zM759 202h1v1h-1zM762 202h1v1h-1zM765 202h1v1h-1zM768 202h1v1h-1zM771 202h1v1h-1zM774 202h1v1h-1zM777 202h1v1h-1zM780 202h1v1h-1zM783 202h1v1h-1zM786 202h1v1h-1zM789 202h1v1h-1zM792 202h1v1h-1zM795 202h1v1h-1zM798 202h1v1h-1zM801 202h1v1h-1zM804 202h1v1h-1zM807 202h1v1h-1zM810 202h1v1h-1zM813 202h1v1h-1zM816 202h1v1h-1zM819 202h1v1h-1zM822 202h1v1h-1zM825 202h1v1h-1zM828 202h1v1h-1zM831 202h1v1h-1zM834 202h1v1h-1zM837 202h1v1h-1zM840 202h1v1h-1zM843 202h1v1h-1zM846 202h1v1h-1zM849 202h1v1h-1zM852 202h1v1h-1zM855 202h1v1h-1zM858 202h1v1h-1zM861 202h1v1h-1zM864 202h1v1h-1zM867 202h1v1h-1zM870 202h1v1h-1zM873 202h1v1h-1zM876 202h1v1h-1zM879 202h1v1h-1zM882 202h1v1h-1zM885 202h1v1h-1zM888 202h1v1h-1zM891 202h1v1h-1zM894 202h1v1h-1zM897 202h1v1h-1zM900 202h1v1h-1zM903 202h1v1h-1zM906 202h1v1h-1zM909 202h1v1h-1zM912 202h1v1h-1zM915 202h1v1h-1zM918 202h1v1h-1zM921 202h1v1h-1zM924 202h1v1h-1zM927 202h1v1h-1zM930 202h1v1h-1zM933 202h1v1h-1zM936 202h1v1h-1zM939 202h1v1h-1zM942 202h1v1h-1zM945 202h1v1h-1zM948 202h1v1h-1zM951 202h1v1h-1zM954 202h1v1h-1zM957 202h1v1h-1zM960 202h1v1h-1zM963 202h1v1h-1zM966 202h1v1h-1zM969 202h1v1h-1zM972 202h1v1h-1zM975 202h1v1h-1zM978 202h1v1h-1zM981 202h1v1h-1zM984 202h1v1h-1zM987 202h1v1h-1zM990 202h1v1h-1zM993 202h1v1h-1zM996 202h1v1h-1zM999 202h1v1h-1zM1002 202h1v1h-1zM1005 202h1v1h-1zM1008 202h1v1h-1zM1011 202h1v1h-1zM1014 202h1v1h-1zM1017 202h1v1h-1zM1020 202h1v1h-1zM1023 202h1v1h-1zM1026 202h1v1h-1zM1029 202h1v1h-1zM1032 202h1v1h-1zM1035 202h1v1h-1zM1038 202h1v1h-1zM1041 202h1v1h-1zM1044 202h1v1h-1zM1047 202h1v1h-1zM1050 202h1v1h-1zM1053 202h1v1h-1zM1056 202h1v1h-1zM1059 202h1v1h-1zM1062 202h1v1h-1zM1065 202h1v1h-1zM1068 202h1v1h-1zM1071 202h1v1h-1zM1074 202h1v1h-1zM1077 202h1v1h-1zM1080 202h1v1h-1zM1083 202h1v1h-1zM1086 202h1v1h-1zM1089 202h1v1h-1zM1092 202h1v1h-1zM1095 202h1v1h-1zM1098 202h1v1h-1zM1101 202h1v1h-1zM1104 202h1v1h-1zM1107 202h1v1h-1zM1110 202h1v1h-1zM1113 202h1v1h-1zM1116 202h1v1h-1zM1119 202h1v1h-1zM1122 202h1v1h-1zM1125 202h1v1h-1zM1128 202h1v1h-1zM1131 202h1v1h-1zM1134 202h1v1h-1zM1137 202h1v1h-1zM1140 202h1v1h-1zM1143 202h1v1h-1zM1146 202h1v1h-1zM1149 202h1v1h-1zM1152 202h1v1h-1zM1155 202h1v1h-1zM1158 202h1v1h-1zM1161 202h1v1h-1zM1164 202h1v1h-1zM1167 202h1v1h-1zM1170 202h1v1h-1zM1173 202h1v1h-1zM1176 202h1v1h-1zM1179 202h1v1h-1zM1182 202h1v1h-1zM1185 202h1v1h-1zM1188 202h1v1h-1zM1191 202h1v1h-1zM1194 202h1v1h-1zM1197 202h1v1h-1zM1200 202h1v1h-1zM1203 202h1v1h-1zM1206 202h1v1h-1zM1209 202h1v1h-1zM1212 202h1v1h-1zM1215 202h1v1h-1zM1218 202h1v1h-1zM1221 202h1v1h-1zM1224 202h1v1h-1zM1227 202h1v1h-1zM1230 202h1v1h-1zM1233 202h1v1h-1zM1236 202h1v1h-1zM1239 202h1v1h-1zM1242 202h1v1h-1zM1245 202h1v1h-1zM1248 202h1v1h-1zM1251 202h1v1h-1zM1254 202h1v1h-1zM1257 202h1v1h-1zM1260 202h1v1h-1zM1263 202h1v1h-1zM1266 202h1v1h-1zM1269 202h1v1h-1zM1272 202h1v1h-1zM1275 202h1v1h-1zM1278 202h1v1h-1zM1281 202h1v1h-1zM1284 202h1v1h-1zM1287 202h1v1h-1zM1290 202h1v1h-1zM1293 202h1v1h-1zM1296 202h1v1h-1zM1299 202h1v1h-1zM1302 202h1v1h-1zM1305 202h1v1h-1zM1308 202h1v1h-1zM1311 202h1v1h-1zM1314 202h1v1h-1zM1317 202h1v1h-1zM1320 202h1v1h-1zM1323 202h1v1h-1zM1326 202h1v1h-1zM1329 202h1v1h-1zM1332 202h1v1h-1zM1335 202h1v1h-1zM1338 202h1v1h-1zM1341 202h1v1h-1zM1344 202h1v1h-1zM1347 202h1v1h-1zM1350 202h1v1h-1zM1353 202h1v1h-1zM1356 202h1v1h-1zM1359 202h1v1h-1zM1362 202h1v1h-1zM1365 202h1v1h-1zM1368 202h1v1h-1zM1371 202h1v1h-1zM1374 202h1v1h-1zM1377 202h1v1h-1zM1380 202h1v1h-1zM1383 202h1v1h-1zM1386 202h1v1h-1zM1389 202h1v1h-1zM1392 202h1v1h-1zM1395 202h1v1h-1zM1398 202h1v1h-1zM1401 202h1v1h-1zM1404 202h1v1h-1zM1407 202h1v1h-1zM1410 202h1v1h-1zM1413 202h1v1h-1zM1416 202h1v1h-1zM1419 202h1v1h-1zM1422 202h1v1h-1zM1425 202h1v1h-1zM1428 202h1v1h-1zM1431 202h1v1h-1zM1434 202h1v1h-1zM1437 202h1v1h-1zM1440 202h1v1h-1zM1443 202h1v1h-1zM1446 202h1v1h-1zM1449 202h1v1h-1zM1452 202h1v1h-1zM1455 202h1v1h-1zM1458 202h1v1h-1zM1461 202h1v1h-1zM1464 202h1v1h-1zM1467 202h1v1h-1zM1470 202h1v1h-1zM1473 202h1v1h-1zM1476 202h1v1h-1zM1479 202h1v1h-1zM1482 202h1v1h-1zM1485 202h1v1h-1zM1488 202h1v1h-1zM1491 202h1v1h-1zM1494 202h1v1h-1zM1497 202h1v1h-1zM1500 202h1v1h-1zM1503 202h1v1h-1zM1506 202h1v1h-1zM1509 202h1v1h-1zM1512 202h1v1h-1zM1515 202h1v1h-1zM1518 202h1v1h-1zM1521 202h1v1h-1zM1524 202h1v1h-1zM1527 202h1v1h-1zM1530 202h1v1h-1zM1533 202h1v1h-1zM1536 202h1v1h-1zM1539 202h1v1h-1zM1542 202h1v1h-1zM1545 202h1v1h-1zM1548 202h1v1h-1zM1551 202h1v1h-1zM1554 202h1v1h-1zM1557 202h1v1h-1zM1560 202h1v1h-1zM1563 202h1v1h-1zM1566 202h1v1h-1zM1569 202h1v1h-1zM1572 202h1v1h-1z" fill="#089981"/>
</g>
</g>
<text x="1587.0" y="44.2" font-size="17.3" class="d" fill="#131722" textLength="35" lengthAdjust="spacing">3.20</text>
<text x="1587.0" y="132.2" font-size="17.3" class="d" fill="#131722" textLength="35" lengthAdjust="spacing">3.10</text>
<text x="1587.0" y="220.2" font-size="17.3" class="d" fill="#131722" textLength="35" lengthAdjust="spacing">3.00</text>
<text x="1587.0" y="308.2" font-size="17.3" class="d" fill="#131722" textLength="35" lengthAdjust="spacing">2.90</text>
<text x="1587.0" y="396.2" font-size="17.3" class="d" fill="#131722" textLength="35" lengthAdjust="spacing">2.80</text>
<path d="M1575 189h53a3 3 0 0 1 3 3v21a3 3 0 0 1 -3 3h-53z" fill="#089981"/>
<text x="1587.6" y="208.3" font-size="17.3" fill="#fff" stroke="#fff" style="stroke-width:0.75px" textLength="33" lengthAdjust="spacing">3.01</text>
<path d="M1575 395h75a3 3 0 0 1 3 3v21a3 3 0 0 1 -3 3h-75z" fill="#22ab94"/>
<text x="1587.9" y="414.3" font-size="17.3" fill="#fff" stroke="#fff" style="stroke-width:0.75px" textLength="56.6" lengthAdjust="spacing">5.622 B</text>
<text x="86" y="503.0" font-size="17.3" text-anchor="middle" class="d" fill="#131722" letter-spacing="-0.4">30</text>
<text x="302" y="503.0" font-size="17.3" text-anchor="middle" class="d" fill="#131722" letter-spacing="-0.4">31</text>
<text x="518" y="503.0" font-size="17.3" text-anchor="middle" fill="#131722" stroke="#131722" style="stroke-width:0.75px" textLength="30" lengthAdjust="spacing">Aug</text>
<text x="734" y="503.0" font-size="17.3" text-anchor="middle" class="d" fill="#131722">2</text>
<text x="950" y="503.0" font-size="17.3" text-anchor="middle" class="d" fill="#131722">3</text>
<text x="1166" y="503.0" font-size="17.3" text-anchor="middle" class="d" fill="#131722">4</text>
<text x="1382" y="503.0" font-size="17.3" text-anchor="middle" class="d" fill="#131722">5</text>
<text x="1544" y="503.0" font-size="17.3" text-anchor="middle" class="d" fill="#131722">18:00</text>
<g font-size="16.9" fill="#131722" class="d">
<text x="26.8" y="43.7" textLength="76.5" lengthAdjust="spacing">XRP/USD,</text>
<text x="111" y="43.7" textLength="24.5" lengthAdjust="spacing">1h,</text>
<text x="142.2" y="43.7" textLength="119.5" lengthAdjust="spacing">CoinMarketCap</text>
<text x="274.1" y="43.7">O</text>
<text x="286.8" y="43.7" class="g" fill="#089981" textLength="31.5" lengthAdjust="spacing">3.01</text>
<text x="332.6" y="43.7">H</text>
<text x="344.4" y="43.7" class="g" fill="#089981" textLength="31.5" lengthAdjust="spacing">3.01</text>
<text x="389.9" y="43.7">L</text>
<text x="398.9" y="43.7" class="g" fill="#089981" textLength="31.5" lengthAdjust="spacing">3.01</text>
<text x="444.3" y="43.7">C</text>
<text x="455.7" y="43.7" class="g" fill="#089981" textLength="31.5" lengthAdjust="spacing">3.01</text>
<text x="501.3" y="43.7" class="g" fill="#089981" textLength="116.3" lengthAdjust="spacing">−0.01 (−0.29%)</text>
<text x="27.4" y="70.0" textLength="57.8" lengthAdjust="spacing">Volume</text>
<text x="97.4" y="70.0" class="v" fill="#22ab94" textLength="56.3" lengthAdjust="spacing">5.622 B</text>
</g>
<g fill="#131722"><path d="M14.9 536H26.6V550.9H20.9V541.9H14.9z"/><circle cx="31.6" cy="539.45" r="3.35"/><path d="M38.2 536H44.4L38.9 550.9H32.1z"/></g>
<text x="49.4" y="551.8" font-size="18.9" class="d" fill="#131722" textLength="106" lengthAdjust="spacing">TradingView</text>
</svg></body></html>
